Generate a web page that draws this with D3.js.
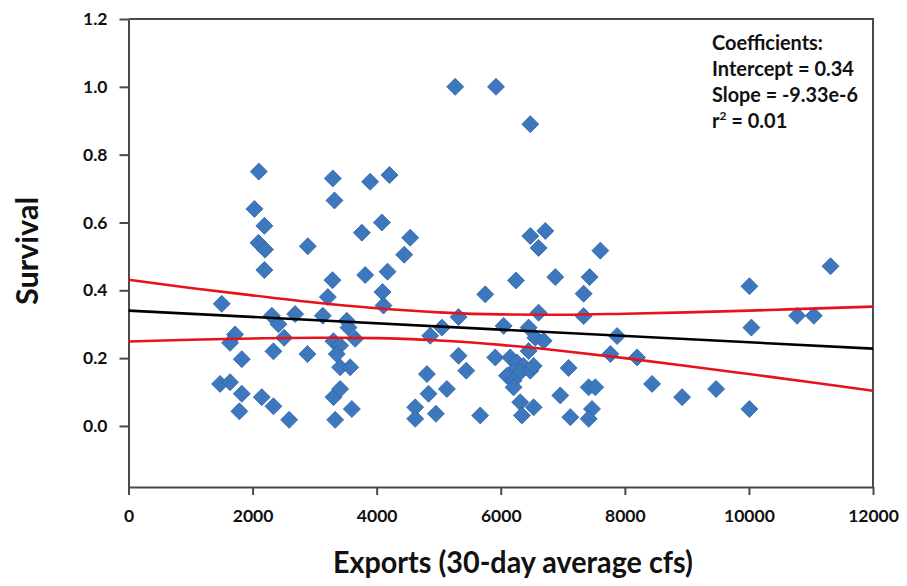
<!DOCTYPE html>
<html>
<head>
<meta charset="utf-8">
<script src="https://cdn.jsdelivr.net/npm/d3@7/dist/d3.min.js"></script>
<style>
  html, body { margin: 0; padding: 0; background: #fff; }
  svg { display: block; }
  text { font-family: Lato, "Open Sans", sans-serif; font-weight: 700; fill: #111; }
</style>
</head>
<body>
<svg id="chart" width="907" height="586"></svg>
<script>
// Export flow (30-day average cfs) for each release group
const exportsCfs = [
  5266, 5923, 6476, 2100, 2030, 2190, 2094, 2200, 2890, 3293,
  3320, 3895, 4207, 4084, 3761, 4540, 4444, 2190, 3815, 4175,
  4094, 4110, 3288, 3213, 1503, 2310, 2417, 2686, 3132, 3519,
  3546, 2508, 1718, 1637, 3653, 3303, 3411, 3357, 2336, 2884,
  1826, 3411, 3573, 1476, 1637, 1826, 2148, 2336, 1787, 2589,
  3331, 3304, 3411, 3600, 4810, 4836, 5132, 4955, 4621, 4621,
  4863, 5052, 5320, 5320, 5444, 5750, 5669, 5911, 7336, 6610,
  7336, 6046, 6449, 6557, 6691, 6449, 7875, 7767, 8197, 6153,
  6261, 6368, 6207, 6314, 6476, 6100, 6207, 6530, 6207, 6314,
  6530, 6341, 7094, 6960, 7121, 7417, 7524, 7471, 7417, 8439,
  8923, 9471, 10008, 6476, 6718, 6610, 7605, 11315, 6245, 6879,
  7433, 10008, 10777, 11046, 10040
];

// Survival estimate for the same groups
const survival = [
  1.00, 1.00, 0.89, 0.75, 0.64, 0.59, 0.54, 0.52, 0.53, 0.73,
  0.665, 0.72, 0.74, 0.60, 0.57, 0.555, 0.505, 0.46, 0.445, 0.455,
  0.395, 0.355, 0.43, 0.38, 0.36, 0.325, 0.30, 0.33, 0.325, 0.31,
  0.29, 0.26, 0.27, 0.245, 0.257, 0.25, 0.237, 0.212, 0.22, 0.212,
  0.197, 0.173, 0.173, 0.124, 0.129, 0.095, 0.085, 0.058, 0.043, 0.018,
  0.018, 0.085, 0.109, 0.05, 0.153, 0.095, 0.109, 0.036, 0.055, 0.021,
  0.266, 0.29, 0.321, 0.207, 0.163, 0.388, 0.031, 0.202, 0.39, 0.334,
  0.324, 0.295, 0.29, 0.26, 0.251, 0.221, 0.265, 0.212, 0.202, 0.202,
  0.187, 0.177, 0.163, 0.158, 0.163, 0.148, 0.134, 0.177, 0.114, 0.07,
  0.055, 0.031, 0.171, 0.09, 0.026, 0.114, 0.114, 0.05, 0.021, 0.124,
  0.085, 0.109, 0.05, 0.56, 0.575, 0.525, 0.517, 0.471, 0.429, 0.439,
  0.439, 0.412, 0.325, 0.325, 0.29
];

// Fitted regression
const intercept = 0.34;
const slope = -9.33e-6;

// 95% confidence band around the fit
const bandX = [0, 1000, 2000, 3000, 4000, 5000, 6000, 7000, 8000, 9000, 10000, 11000, 12000];
const bandUpper = [0.431, 0.407, 0.385, 0.364, 0.347, 0.335, 0.329, 0.328, 0.331, 0.335, 0.340, 0.346, 0.352];
const bandLower = [0.249, 0.254, 0.258, 0.260, 0.259, 0.252, 0.239, 0.221, 0.200, 0.177, 0.153, 0.129, 0.104];

const xTicks = [0, 2000, 4000, 6000, 8000, 10000, 12000];
const yTicks = [0, 0.2, 0.4, 0.6, 0.8, 1.0, 1.2];

const coefficientLines = ["Coefficients:", "Intercept = 0.34", "Slope = -9.33e-6"];
const rSquared = "0.01";

const svg = d3.select("#chart");
const plotLeft = 128.5, plotRight = 873, plotTop = 19, plotBottom = 487;

const x = d3.scaleLinear().domain([0, 12000]).range([plotLeft, plotRight]);
const y = d3.scaleLinear().domain([-0.18, 1.2]).range([plotBottom, plotTop]);

const axisColor = "#4a4a4a";

// Plot frame (top and right edges)
svg.append("path")
  .attr("d", `M${plotLeft},${plotTop}H${plotRight}V${plotBottom}`)
  .attr("fill", "none").attr("stroke", axisColor).attr("stroke-width", 2);

// X axis
const xAxis = svg.append("g")
  .attr("transform", `translate(0,${plotBottom})`)
  .call(d3.axisBottom(x).tickValues(xTicks).tickFormat(d3.format("d")).tickSize(8).tickPadding(15).tickSizeOuter(0));
xAxis.select(".domain").attr("stroke", axisColor).attr("stroke-width", 2);
xAxis.selectAll(".tick line").attr("stroke", axisColor).attr("stroke-width", 2);
xAxis.selectAll("text").attr("font-size", 17.5).attr("fill", "#111")
  .attr("font-family", "Lato, sans-serif").attr("font-weight", 700);

// Y axis
const yAxis = svg.append("g")
  .attr("transform", `translate(${plotLeft},0)`)
  .call(d3.axisLeft(y).tickValues(yTicks).tickFormat(d3.format(".1f")).tickSize(9).tickPadding(12).tickSizeOuter(0));
yAxis.select(".domain").attr("stroke", axisColor).attr("stroke-width", 2);
yAxis.selectAll(".tick line").attr("stroke", axisColor).attr("stroke-width", 2);
yAxis.selectAll("text").attr("font-size", 17.5).attr("fill", "#111")
  .attr("font-family", "Lato, sans-serif").attr("font-weight", 700);

// Observations as diamonds
const points = exportsCfs.map((v, i) => ({ x: v, y: survival[i] }));
const r = 8.5;
svg.append("g").selectAll("path")
  .data(points)
  .join("path")
  .attr("d", `M0,${-r}L${r},0L0,${r}L${-r},0Z`)
  .attr("transform", d => `translate(${x(d.x)},${y(d.y)})`)
  .attr("fill", "#3d77bd")
  .attr("stroke", "#2f64a6")
  .attr("stroke-width", 0.8);

// Confidence band edges
const band = bandX.map((v, i) => ({ x: v, hi: bandUpper[i], lo: bandLower[i] }));
const bandLine = key => d3.line().x(d => x(d.x)).y(d => y(d[key])).curve(d3.curveMonotoneX);
svg.append("path").datum(band).attr("d", bandLine("hi"))
  .attr("fill", "none").attr("stroke", "#e8121b").attr("stroke-width", 2.6);
svg.append("path").datum(band).attr("d", bandLine("lo"))
  .attr("fill", "none").attr("stroke", "#e8121b").attr("stroke-width", 2.6);

// Regression line
const fit = [0, 12000].map(v => ({ x: v, y: intercept + slope * v }));
svg.append("path").datum(fit)
  .attr("d", d3.line().x(d => x(d.x)).y(d => y(d.y)))
  .attr("fill", "none").attr("stroke", "#000").attr("stroke-width", 2.6);

// Coefficient annotation
const note = svg.append("g").attr("transform", "translate(712,0)");
const noteWidths = [111, 142, 146];
coefficientLines.forEach((t, i) => {
  note.append("text")
    .attr("x", 0).attr("y", 50 + i * 26)
    .attr("font-size", 20)
    .attr("textLength", noteWidths[i]).attr("lengthAdjust", "spacingAndGlyphs")
    .text(t);
});
const r2 = note.append("text").attr("x", 0).attr("y", 128).attr("font-size", 20);
r2.append("tspan").text("r");
r2.append("tspan").attr("font-size", 12).attr("dy", -8).text("2");
r2.append("tspan").attr("dy", 8).text(" = " + rSquared);

// Axis titles
svg.append("text")
  .attr("transform", "translate(38,251) rotate(-90)")
  .attr("text-anchor", "middle")
  .attr("font-size", 30)
  .attr("textLength", 108).attr("lengthAdjust", "spacingAndGlyphs")
  .text("Survival");

svg.append("text")
  .attr("x", 513).attr("y", 573)
  .attr("text-anchor", "middle")
  .attr("font-size", 30)
  .attr("textLength", 360).attr("lengthAdjust", "spacingAndGlyphs")
  .text("Exports (30-day average cfs)");
</script>
</body>
</html>
